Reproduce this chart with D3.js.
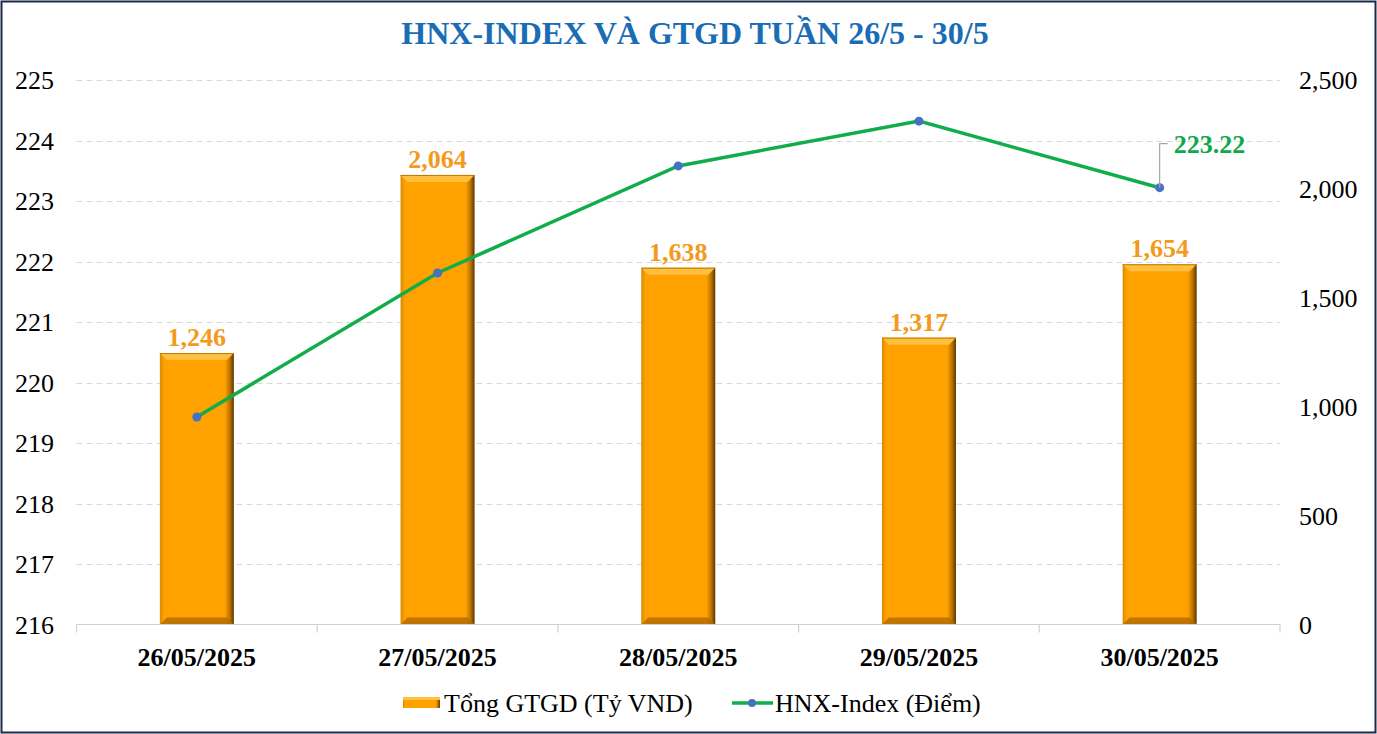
<!DOCTYPE html>
<html><head><meta charset="utf-8">
<script src="https://cdn.jsdelivr.net/npm/d3@7/dist/d3.min.js"></script>
<style>body{margin:0;background:#fff}svg{display:block;font-family:"Liberation Serif","Times New Roman",serif}</style>
</head><body><svg id="c" width="1377" height="734"></svg>
<script>
const categories = ["26/05/2025","27/05/2025","28/05/2025","29/05/2025","30/05/2025"];
const gtgd = [1246, 2064, 1638, 1317, 1654];
const hnx = [219.43, 221.81, 223.58, 224.32, 223.22];
const leftTicks = [216,217,218,219,220,221,222,223,224,225];
const rightTicks = [0,500,1000,1500,2000,2500];
const title = "HNX-INDEX VÀ GTGD TUẦN 26/5 - 30/5";
const legendBar = "Tổng GTGD (Tỷ VND)";
const legendLine = "HNX-Index (Điểm)";

const svg = d3.select("#c");
const M = {l:76.5, r:1280, t:80, b:624.5};
const x = d3.scaleBand().domain(categories).range([M.l, M.r]).paddingInner(0).paddingOuter(0);
const yL = d3.scaleLinear().domain([216,225]).range([M.b, M.t]);
const yR = d3.scaleLinear().domain([0,2500]).range([M.b, M.t]);
const FS = 26;

svg.append("rect").attr("x",1.5).attr("y",1.5).attr("width",1374).attr("height",731)
  .attr("fill","#fff").attr("stroke","#1b2a4a").attr("stroke-width",2);

const defs = svg.append("defs");
const g1 = defs.append("linearGradient").attr("id","hg").attr("x1",0).attr("x2",1).attr("y1",0).attr("y2",0);
g1.append("stop").attr("offset","0").attr("stop-color","#d98a00");
g1.append("stop").attr("offset","0.06").attr("stop-color","#ffa200");
g1.append("stop").attr("offset","0.88").attr("stop-color","#ffa200");
g1.append("stop").attr("offset","0.95").attr("stop-color","#b86f00");
g1.append("stop").attr("offset","1").attr("stop-color","#5a3400");

// title
svg.append("text").attr("x",695).attr("y",44).attr("text-anchor","middle")
  .attr("font-size",32).attr("font-weight","bold").attr("fill","#1a6db5").text(title);

// gridlines
svg.append("g").selectAll("line").data(leftTicks.slice(1)).join("line")
  .attr("x1",M.l).attr("x2",M.r).attr("y1",d=>Math.round(yL(d))+0.5).attr("y2",d=>Math.round(yL(d))+0.5)
  .attr("stroke","#d9d9d9").attr("stroke-width",1).attr("stroke-dasharray","6,4");

// left axis labels
svg.append("g").selectAll("text").data(leftTicks).join("text")
  .attr("x",54).attr("y",d=>yL(d)+9).attr("text-anchor","end").attr("font-size",FS).attr("fill","#000").text(d=>d);
// right axis labels
svg.append("g").selectAll("text").data(rightTicks).join("text")
  .attr("x",1299).attr("y",d=>yR(d)+9).attr("text-anchor","start").attr("font-size",FS).attr("fill","#000").text(d=>d3.format(",")(d));

// bars
const bw = 74;
const bars = svg.append("g").selectAll("g").data(gtgd).join("g");
bars.each(function(v,i){
  const g = d3.select(this);
  const cx = x(categories[i]) + x.bandwidth()/2;
  const x0 = cx - bw/2, x1 = cx + bw/2, y0 = yR(v), y1 = yR(0);
  g.append("rect").attr("x",x0).attr("y",y0).attr("width",bw).attr("height",y1-y0).attr("fill","url(#hg)");
  const b = 7;
  g.append("polygon").attr("points",`${x0},${y0} ${x1},${y0} ${x1-b},${y0+b} ${x0+b},${y0+b}`).attr("fill","#ffc040");
  g.append("line").attr("x1",x0).attr("x2",x1).attr("y1",y0+0.5).attr("y2",y0+0.5).attr("stroke","#c07800").attr("stroke-width",1);
  g.append("polygon").attr("points",`${x0},${y1} ${x1},${y1} ${x1-b},${y1-b} ${x0+b},${y1-b}`).attr("fill","#b06a00").attr("opacity",0.8);
  g.append("text").attr("x",cx).attr("y",y0-7).attr("text-anchor","middle").attr("font-size",FS)
    .attr("font-weight","bold").attr("fill","#f39a1d").text(d3.format(",")(v));
});

// x axis
svg.append("line").attr("x1",M.l).attr("x2",M.r).attr("y1",M.b).attr("y2",M.b).attr("stroke","#d0d0d0").attr("stroke-width",1.2);
const tks = categories.map(c=>x(c)).concat([M.r]);
svg.append("g").selectAll("line").data(tks).join("line")
  .attr("x1",d=>d).attr("x2",d=>d).attr("y1",M.b).attr("y2",M.b+8).attr("stroke","#d0d0d0").attr("stroke-width",1.2);
svg.append("g").selectAll("text").data(categories).join("text")
  .attr("x",d=>x(d)+x.bandwidth()/2).attr("y",666).attr("text-anchor","middle").attr("font-size",FS)
  .attr("font-weight","bold").attr("fill","#000").text(d=>d);

// line
const px = i => x(categories[i]) + x.bandwidth()/2;
svg.append("path").datum(hnx).attr("d",d3.line().x((d,i)=>px(i)).y(d=>yL(d)))
  .attr("fill","none").attr("stroke","#10ad4a").attr("stroke-width",3.5);
svg.append("g").selectAll("circle").data(hnx).join("circle")
  .attr("cx",(d,i)=>px(i)).attr("cy",d=>yL(d)).attr("r",4.5).attr("fill","#4472c4");

// data label for last point
const li = hnx.length-1, lx = px(li), ly = yL(hnx[li]);
svg.append("path").attr("d",`M${lx},${ly} L${lx},${ly-44} L${lx+8},${ly-44}`)
  .attr("fill","none").attr("stroke","#a6a6a6").attr("stroke-width",1.2);
svg.append("text").attr("x",lx+14).attr("y",ly-35).attr("font-size",FS).attr("font-weight","bold")
  .attr("fill","#10a84a").text(hnx[li].toFixed(2));

// legend
svg.append("rect").attr("x",403).attr("y",697).attr("width",37).attr("height",11).attr("fill","url(#hg)");
svg.append("rect").attr("x",403).attr("y",697).attr("width",37).attr("height",3).attr("fill","#ffc040");
svg.append("text").attr("x",444).attr("y",712).attr("font-size",FS).attr("fill","#000").text(legendBar);
svg.append("line").attr("x1",732).attr("x2",773).attr("y1",703).attr("y2",703).attr("stroke","#10ad4a").attr("stroke-width",3.5);
svg.append("circle").attr("cx",752).attr("cy",703).attr("r",4).attr("fill","#4472c4");
svg.append("text").attr("x",775).attr("y",712).attr("font-size",FS).attr("fill","#000").text(legendLine);
</script></body></html>
